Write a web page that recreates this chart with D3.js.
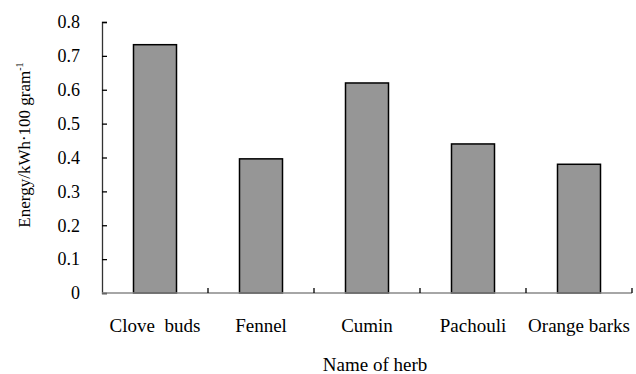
<!DOCTYPE html>
<html><head><meta charset="utf-8">
<script src="https://cdn.jsdelivr.net/npm/d3@7"></script>
<style>body{margin:0;background:#fff}svg{display:block}</style>
</head><body><svg id="c" width="636" height="374"></svg>
<script>
const categories = ["Clove  buds","Fennel","Cumin","Pachouli","Orange barks"];
const values = [0.733, 0.396, 0.62, 0.44, 0.38];
const yTicks = [0,0.1,0.2,0.3,0.4,0.5,0.6,0.7,0.8];
const FONT = '"Liberation Serif"';

const svg = d3.select("#c");
const m = {l:102, r:632, t:22, b:293};
const xb = d3.scaleBand().domain(categories).range([m.l, m.r]);
const y = d3.scaleLinear().domain([0,0.8]).range([m.b, m.t]);
const barW = 43;

// bars
svg.selectAll("rect.bar").data(values).join("rect").attr("class","bar")
  .attr("x",(d,i)=>xb(categories[i]) + xb.bandwidth()/2 - barW/2)
  .attr("width",barW)
  .attr("y",d=>y(d)).attr("height",d=>y(0)-y(d))
  .attr("fill","#969696").attr("stroke","#000").attr("stroke-width",1.5);

// y axis
const ya = svg.append("g").attr("transform",`translate(${m.l},0)`)
  .call(d3.axisLeft(y).tickValues(yTicks).tickSize(-5).tickPadding(22).tickFormat(d=>d===0?"0":d3.format(".1f")(d)));
ya.attr("font-family",FONT).attr("font-size",18);
ya.select(".domain").attr("stroke","#333").attr("stroke-width",1.3);
ya.selectAll(".tick line").attr("stroke","#000").attr("stroke-width",1.3);
ya.selectAll("text").style("font-family",FONT).style("font-size","18px").attr("fill","#000");

// x axis
const xa = svg.append("g").attr("transform",`translate(0,${m.b})`);
xa.append("line").attr("x1",m.l).attr("x2",m.r).attr("y1",0).attr("y2",0).attr("stroke","#888").attr("stroke-width",1.5);
xa.selectAll("line.tk").data(categories).join("line").attr("class","tk")
  .attr("x1",(d,i)=>xb(d)+xb.step()).attr("x2",(d,i)=>xb(d)+xb.step())
  .attr("y1",0).attr("y2",-5).attr("stroke","#000").attr("stroke-width",1.3);
xa.selectAll("text.cat").data(categories).join("text").attr("class","cat")
  .attr("x",d=>xb(d)+xb.bandwidth()/2).attr("y",39)
  .attr("text-anchor","middle").style("font-family",FONT).style("font-size","19px")
  .style("white-space","pre").attr("fill","#000")
  .text(d=>d);

// axis titles
svg.append("text").attr("x",375).attr("y",371).attr("text-anchor","middle")
  .style("font-family",FONT).style("font-size","19px").attr("fill","#000").text("Name of herb");
const yt = svg.append("text").attr("transform","translate(30,145) rotate(-90)").attr("text-anchor","middle")
  .style("font-family",FONT).style("font-size","17px").attr("fill","#000");
yt.append("tspan").text("Energy/kWh\u00b7100 gram");
yt.append("tspan").attr("dy",-7).style("font-size","10px").text("-1");
</script></body></html>
